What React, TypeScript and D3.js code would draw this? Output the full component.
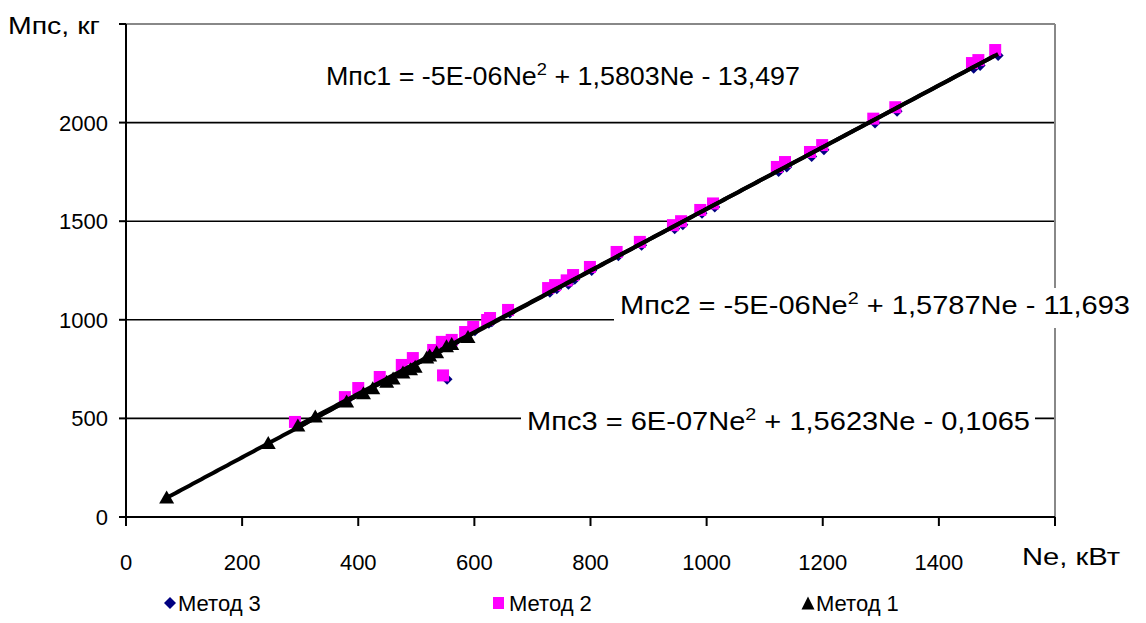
import React from "react";
import * as d3 from "d3";

const xTicks = [0, 200, 400, 600, 800, 1000, 1200, 1400];
const yTicks = [0, 500, 1000, 1500, 2000];

const method1X = [70, 245, 296, 326, 380, 409, 425, 449, 460, 477, 490, 498, 518, 523, 535, 552, 561, 589];
const method1Y = [101, 378, 466, 512, 588, 630, 655, 688, 705, 735, 752, 765, 811, 822, 838, 868, 880, 915];

const method2X = [291, 377, 400, 437, 475, 494, 529, 544, 546, 561, 584, 598, 622, 627, 658, 727, 739, 759, 770, 799, 845, 885, 942, 956, 989, 1011, 1121, 1135, 1178, 1199, 1287, 1325, 1457, 1468, 1497];
const method2Y = [482, 608, 654, 710, 771, 806, 847, 888, 718, 898, 938, 964, 999, 1009, 1050, 1161, 1176, 1200, 1227, 1268, 1344, 1395, 1480, 1500, 1557, 1590, 1775, 1800, 1851, 1886, 2020, 2078, 2302, 2317, 2368];

const method3X = [294, 380, 403, 440, 478, 497, 532, 547, 553, 564, 587, 601, 625, 630, 661, 730, 742, 762, 773, 802, 848, 888, 945, 959, 992, 1014, 1124, 1138, 1181, 1202, 1290, 1328, 1460, 1471, 1502];
const method3Y = [465, 590, 635, 690, 750, 785, 830, 870, 698, 880, 920, 945, 982, 990, 1035, 1140, 1158, 1180, 1205, 1250, 1325, 1378, 1462, 1482, 1540, 1572, 1752, 1775, 1828, 1862, 1998, 2058, 2275, 2290, 2340];

// trendline coefficients [a, b, c] for a*x^2 + b*x + c
const trend1 = [-5e-6, 1.5803, -13.497];
const trend2 = [-5e-6, 1.5787, -11.693];
const trend3 = [6e-7, 1.5623, -0.1065];

const W = 1146, H = 623;
const L = 126, R = 1055, T = 24, B = 517;
const FONT = "'Liberation Sans', Arial, sans-serif";

export default function App() {
  const x = d3.scaleLinear().domain([0, 1600]).range([L, R]);
  const y = d3.scaleLinear().domain([0, 2500]).range([B, T]);

  const trendPath = (c: number[], x0: number, x1: number) => {
    const xs = d3.range(x0, x1, 5).concat([x1]);
    return d3.line<number>()
      .x(v => x(v))
      .y(v => y(c[0] * v * v + c[1] * v + c[2]))(xs) || "";
  };

  const diamond = (cx: number, cy: number, r: number) =>
    `M${cx},${cy - r}L${cx + r},${cy}L${cx},${cy + r}L${cx - r},${cy}Z`;
  const tri = (cx: number, cy: number, w: number, h: number) =>
    `M${cx},${cy - h / 2}L${cx + w / 2},${cy + h / 2}L${cx - w / 2},${cy + h / 2}Z`;

  const x1min = d3.min(method1X)!, x1max = d3.max(method1X)!;
  const x2min = d3.min(method2X)!, x2max = d3.max(method2X)!;
  const x3min = d3.min(method3X)!, x3max = d3.max(method3X)!;

  const eq = (name: string, a: string, b: string, tx: number, ty: number, len: number) => (
    <text x={tx} y={ty} fontSize={25} fontFamily={FONT} fill="#000" textLength={len} lengthAdjust="spacingAndGlyphs">
      {name + " = " + a + "Ne"}
      <tspan dy={-10} fontSize={17}>2</tspan>
      <tspan dy={10}>{" + " + b}</tspan>
    </text>
  );

  return (
    <svg width={W} height={H} style={{ position: "absolute", left: 0, top: 0, background: "#fff" }}>
      <rect x={0} y={0} width={W} height={H} fill="#fff" />
      {yTicks.filter(t => t > 0).map(t => (
        <line key={t} x1={L} x2={R} y1={y(t)} y2={y(t)} stroke="#000" strokeWidth={1.6} />
      ))}
      <line x1={L} x2={R} y1={T} y2={T} stroke="#888" strokeWidth={2} />
      <line x1={R} x2={R} y1={T} y2={B} stroke="#888" strokeWidth={2} />

      <rect x={614} y={288} width={532} height={40} fill="#fff" />
      <rect x={521} y={403} width={514} height={36} fill="#fff" />
      <rect x={320} y={58} width={486} height={36} fill="#fff" />

      {method3X.map((v, i) => (
        <path key={"d" + i} d={diamond(x(v), y(method3Y[i]), 5.5)} fill="#000080" />
      ))}
      {method2X.map((v, i) => (
        <rect key={"s" + i} x={x(v) - 6} y={y(method2Y[i]) - 6} width={12} height={12} fill="#ff00ff" />
      ))}
      {method1X.map((v, i) => (
        <path key={"t" + i} d={tri(x(v), y(method1Y[i]), 15, 13)} fill="#000" />
      ))}

      <path d={trendPath(trend3, x3min, x3max)} fill="none" stroke="#000" strokeWidth={4} />
      <path d={trendPath(trend2, x2min, x2max)} fill="none" stroke="#000" strokeWidth={4} />
      <path d={trendPath(trend1, x1min, x1max)} fill="none" stroke="#000" strokeWidth={4} />

      <line x1={L} x2={L} y1={T} y2={B} stroke="#000" strokeWidth={2} />
      <line x1={L} x2={R} y1={B} y2={B} stroke="#000" strokeWidth={2} />
      {[...yTicks, 2500].map(t => (
        <line key={"yt" + t} x1={L - 7} x2={L} y1={y(t)} y2={y(t)} stroke="#000" strokeWidth={2} />
      ))}
      {[...xTicks, 1600].map(t => (
        <line key={"xt" + t} x1={x(t)} x2={x(t)} y1={B} y2={B + 9} stroke="#000" strokeWidth={2} />
      ))}
      {yTicks.map(t => (
        <text key={"yl" + t} x={L - 18} y={y(t) + 8} textAnchor="end" fontSize={22} fontFamily={FONT}>{t}</text>
      ))}
      {xTicks.map(t => (
        <text key={"xl" + t} x={x(t)} y={570} textAnchor="middle" fontSize={22} fontFamily={FONT}>{t}</text>
      ))}
      <text x={8} y={34} fontSize={24} fontFamily={FONT} textLength={92} lengthAdjust="spacingAndGlyphs">Мпс, кг</text>
      <text x={1022} y={565} fontSize={24} fontFamily={FONT} textLength={98} lengthAdjust="spacingAndGlyphs">Ne, кВт</text>

      {eq("Мпс1", "-5E-06", "1,5803Ne - 13,497", 326, 85, 474)}
      {eq("Мпс2", "-5E-06", "1,5787Ne - 11,693", 620, 314, 510)}
      {eq("Мпс3", "6E-07", "1,5623Ne - 0,1065", 527, 430, 503)}

      <path d={diamond(170, 603, 6)} fill="#000080" />
      <text x={178} y={611} fontSize={22} fontFamily={FONT}>Метод 3</text>
      <rect x={493} y={597} width={11} height={12} fill="#ff00ff" />
      <text x={509} y={611} fontSize={22} fontFamily={FONT}>Метод 2</text>
      <path d={tri(808, 603, 13, 13)} fill="#000" />
      <text x={816} y={611} fontSize={22} fontFamily={FONT}>Метод 1</text>
    </svg>
  );
}
